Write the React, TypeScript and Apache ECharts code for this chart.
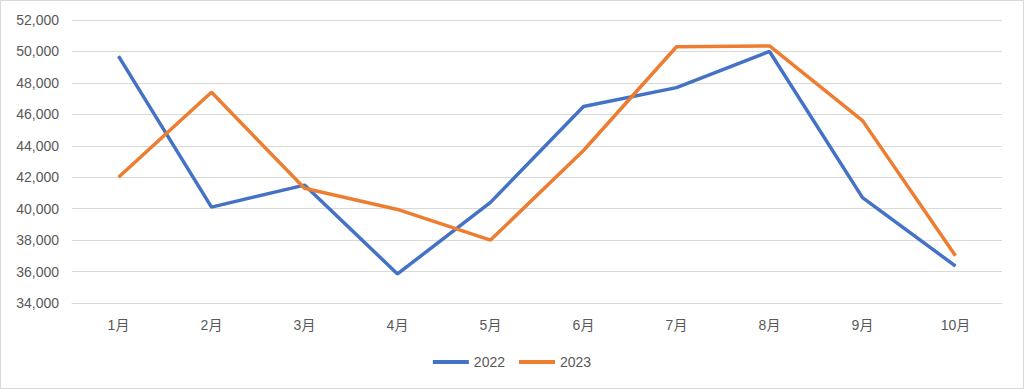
import React, { useEffect, useRef } from "react";
import * as echarts from "echarts";

const categories = ["1月", "2月", "3月", "4月", "5月", "6月", "7月", "8月", "9月", "10月"];
const values2022 = [49700, 40100, 41500, 35850, 40400, 46500, 47700, 50000, 40700, 36350];
const values2023 = [42000, 47400, 41300, 39950, 38000, 43700, 50300, 50350, 45600, 37000];
const seriesNames = ["2022", "2023"];

export default function App() {
  const ref = useRef<HTMLDivElement>(null);
  useEffect(() => {
    if (!ref.current) return;
    const chart = echarts.init(ref.current, undefined, { renderer: "svg" });
    const font = "'Liberation Sans', Arial, 'Noto Sans CJK SC', sans-serif";
    chart.setOption({
      animation: false,
      backgroundColor: "#ffffff",
      color: ["#4472C4", "#ED7D31"],
      textStyle: { fontFamily: font },
      grid: { left: 71, right: 21, top: 19, bottom: 85, containLabel: false },
      legend: {
        data: seriesNames,
        bottom: 14,
        left: "center",
        icon: "rect",
        itemWidth: 36,
        itemHeight: 4,
        itemGap: 14,
        textStyle: { color: "#595959", fontSize: 14, fontFamily: font },
      },
      xAxis: {
        type: "category",
        data: categories,
        boundaryGap: true,
        axisLine: { show: true, lineStyle: { color: "#D9D9D9", width: 1 } },
        axisTick: { show: false },
        axisLabel: { color: "#595959", fontSize: 14, margin: 15, fontFamily: font },
        splitLine: { show: false },
      },
      yAxis: {
        type: "value",
        min: 34000,
        max: 52000,
        interval: 2000,
        axisLine: { show: false },
        axisTick: { show: false },
        axisLabel: {
          color: "#595959",
          fontSize: 14,
          margin: 13,
          fontFamily: font,
          formatter: (v: number) => v.toLocaleString("en-US"),
        },
        splitLine: { show: true, lineStyle: { color: "#D9D9D9", width: 1 } },
      },
      series: [
        {
          name: seriesNames[0],
          type: "line",
          data: values2022,
          symbol: "none",
          lineStyle: { width: 3.5, color: "#4472C4" },
          itemStyle: { color: "#4472C4" },
        },
        {
          name: seriesNames[1],
          type: "line",
          data: values2023,
          symbol: "none",
          lineStyle: { width: 3.5, color: "#ED7D31" },
          itemStyle: { color: "#ED7D31" },
        },
      ],
    });
    return () => chart.dispose();
  }, []);
  return (
    <div
      style={{
        position: "absolute",
        left: 0,
        top: 0,
        width: 1024,
        height: 389,
        boxSizing: "border-box",
        border: "1px solid #D9D9D9",
        background: "#fff",
      }}
    >
      <div ref={ref} style={{ width: 1022, height: 387 }} />
    </div>
  );
}
